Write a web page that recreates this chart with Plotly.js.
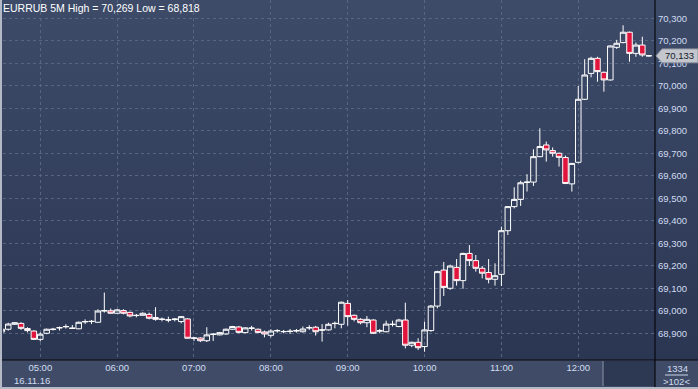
<!DOCTYPE html>
<html>
<head>
<meta charset="utf-8">
<script src="https://cdn.plot.ly/plotly-3.0.1.min.js"></script>
<style>
  html, body { margin: 0; padding: 0; background: #2b3652; }
  #chart { width: 698px; height: 389px; background: linear-gradient(to bottom, #3d4b69 0px, #2b3652 360px, #2b3652 389px); }
</style>
</head>
<body>
<div id="chart"></div>
<script>
// ---- data (5-minute bars, 16.11.16) ----
const dateLabel = "16.11.16";
const symbol = "EURRUB 5M";
const times = [
  "04:30","04:35","04:40","04:45","04:50","04:55",
  "05:00","05:05","05:10","05:15","05:20","05:25","05:30","05:35","05:40","05:45","05:50","05:55",
  "06:00","06:05","06:10","06:15","06:20","06:25","06:30","06:35","06:40","06:45","06:50","06:55",
  "07:00","07:05","07:10","07:15","07:20","07:25","07:30","07:35","07:40","07:45","07:50","07:55",
  "08:00","08:05","08:10","08:15","08:20","08:25","08:30","08:35","08:40","08:45","08:50","08:55",
  "09:00","09:05","09:10","09:15","09:20","09:25","09:30","09:35","09:40","09:45","09:50","09:55",
  "10:00","10:05","10:10","10:15","10:20","10:25","10:30","10:35","10:40","10:45","10:50","10:55",
  "11:00","11:05","11:10","11:15","11:20","11:25","11:30","11:35","11:40","11:45","11:50","11:55",
  "12:00","12:05","12:10","12:15","12:20","12:25","12:30","12:35","12:40","12:45","12:50","12:55"
];
const opens = [
  68906,68918,68940,68944,68921,68910,
  68873,68900,68917,68924,68929,68923,68920,68951,68952,68949,68999,69000,
  68989,69001,68993,68980,68980,68984,68970,68963,68960,68961,68952,68964,
  68878,68879,68867,68895,68893,68897,68918,68928,68903,68922,68918,68906,
  68891,68911,68907,68908,68910,68907,68924,68927,68914,68915,68943,68940,
  69033,68980,68962,68947,68959,68910,68907,68939,68930,68959,68847,68860,
  68841,68912,69021,69181,69100,69193,69134,69255,69223,69189,69170,69140,
  69162,69356,69463,69495,69570,69572,69685,69737,69712,69700,69681,69564,
  69660,69940,70055,70122,70060,70026,70171,70192,70238,70144,70181,70134
];
const highs = [
  68921,68947,68950,68949,68927,68913,
  68904,68921,68924,68930,68940,68937,68952,68962,68959,69007,69081,69010,
  69008,69007,68996,68986,68993,68992,69016,68970,68974,68968,68977,68966,
  68882,68882,68927,68900,68906,68921,68933,68933,68927,68933,68921,68912,
  68918,68918,68915,68919,68919,68930,68936,68933,68941,68947,68952,69041,
  69048,68983,68967,68977,68962,68919,68956,68956,68964,69036,68863,68878,
  68952,69026,69178,69217,69205,69230,69258,69292,69248,69199,69230,69211,
  69374,69465,69549,69578,69607,69718,69811,69752,69726,69703,69690,69657,
  69999,70118,70129,70129,70063,70180,70204,70269,70241,70192,70218,70137
];
const lows = [
  68903,68912,68937,68915,68904,68870,
  68864,68896,68912,68912,68921,68919,68918,68941,68941,68947,68992,68988,
  68988,68984,68971,68971,68978,68962,68956,68953,68949,68953,68944,68876,
  68866,68861,68861,68866,68891,68893,68916,68900,68900,68912,68900,68882,
  68882,68903,68900,68897,68903,68903,68915,68890,68863,68912,68922,68922,
  68934,68953,68940,68927,68897,68900,68904,68930,68927,68833,68838,68826,
  68818,68907,69011,69066,69093,69112,69098,69199,69174,69144,69122,69112,
  69110,69337,69455,69466,69530,69555,69683,69663,69685,69641,69563,69530,
  69655,69937,70038,70018,69974,70023,70164,70189,70107,70129,70129,70130
];
const closes = [
  68918,68941,68947,68922,68912,68873,
  68896,68918,68918,68925,68930,68922,68949,68952,68953,68999,69001,68989,
  69004,68989,68977,68979,68989,68967,68962,68962,68959,68963,68974,68878,
  68879,68867,68893,68896,68903,68918,68930,68904,68924,68923,68904,68897,
  68910,68912,68908,68909,68912,68919,68925,68907,68915,68940,68944,69038,
  68974,68962,68947,68962,68900,68911,68941,68940,68959,68847,68860,68836,
  68915,69021,69174,69104,69199,69134,69255,69223,69189,69167,69140,69156,
  69356,69463,69495,69569,69572,69685,69730,69715,69700,69682,69566,69655,
  69940,70048,70122,70063,70026,70177,70189,70238,70144,70181,70137,70133
];
const yTickVals = [68900,69000,69100,69200,69300,69400,69500,69600,69700,69800,69900,70000,70100,70200,70300];
const counterText = "1334";

// ---- helpers ----
const day = "2016-11-16 ";
const xs = times.map(t => day + t);
const fmt = v => v.toLocaleString('en-US');
const hi = Math.max(...highs), lo = Math.min(...lows);
const last = closes[closes.length - 1];

// pixel -> paper helpers (plot area: x 3..655, y 0..360)
const W = 698, H = 389, L = 3, R = 43, T = 0, B = 29;
const pw = W - L - R, ph = H - T - B;
const px = x => (x - L) / pw;
const py = y => (H - B - y) / ph;

const textFont = { family: 'Liberation Sans, Arial, sans-serif', size: 9.5, color: '#d0dcf2' };

const trace = {
  type: 'candlestick',
  x: xs, open: opens, high: highs, low: lows, close: closes,
  increasing: { line: { color: '#ffffff', width: 1 }, fillcolor: 'rgba(0,0,0,0)' },
  decreasing: { line: { color: '#ffffff', width: 1 }, fillcolor: '#e0143c' },
  whiskerwidth: 0,
  hoverinfo: 'skip',
  showlegend: false
};

const tagHalf = 31; // price units (~7px)
const layout = {
  width: W, height: H,
  margin: { l: L, r: R, t: T, b: B, pad: 0 },
  paper_bgcolor: 'rgba(0,0,0,0)',
  plot_bgcolor: 'rgba(0,0,0,0)',
  showlegend: false,
  boxgap: 0.14, boxgroupgap: 0,
  title: {
    text: `${symbol} High = ${fmt(hi)} Low = ${fmt(lo)}`,
    xref: 'container', yref: 'container',
    x: 3 / W, xanchor: 'left', y: 1 - 8 / H, yanchor: 'middle',
    font: { family: 'Liberation Sans, Arial, sans-serif', size: 10.5, color: '#ffffff' }
  },
  xaxis: {
    type: 'date',
    range: [day + '04:30:54', day + '12:59:54'],
    rangeslider: { visible: false },
    tickformat: '%H:%M', tick0: day + '00:00', dtick: 3600000,
    showgrid: true, gridcolor: '#58657f', gridwidth: 1, griddash: '3px,3px',
    zeroline: false, showline: false, ticks: '',
    tickfont: textFont, fixedrange: true
  },
  yaxis: {
    side: 'right',
    range: [68781.3, 70381.3],
    tickmode: 'array', tickvals: yTickVals, tickformat: ',',
    showgrid: true, gridcolor: '#58657f', gridwidth: 1, griddash: '3px,3px',
    zeroline: false, showline: false, ticks: '',
    tickfont: textFont, ticklabelstandoff: 2, fixedrange: true
  },
  shapes: [
    // bottom axis strip
    { type: 'rect', xref: 'paper', yref: 'paper', x0: px(0), x1: px(W), y0: py(H), y1: py(360),
      fillcolor: '#404c67', line: { width: 0 }, layer: 'below' },
    // dark scroll region
    { type: 'rect', xref: 'paper', yref: 'paper', x0: px(603), x1: px(655), y0: py(386), y1: py(361),
      fillcolor: '#2d3852', line: { width: 0 }, layer: 'below' },
    { type: 'line', xref: 'paper', yref: 'paper', x0: px(603), x1: px(603), y0: py(386), y1: py(361),
      line: { color: '#6f788c', width: 1.5 }, layer: 'below' },
    // separators
    { type: 'line', xref: 'paper', yref: 'paper', x0: px(655), x1: px(655), y0: py(H), y1: py(0),
      line: { color: '#08090d', width: 1.2 } },
    { type: 'line', xref: 'paper', yref: 'paper', x0: px(0), x1: px(W), y0: py(360), y1: py(360),
      line: { color: '#08090d', width: 1.2 } },
    // counter underline
    { type: 'line', xref: 'paper', yref: 'paper', x0: px(665), x1: px(688), y0: py(375), y1: py(375),
      line: { color: '#c8d4ea', width: 1 } },
    // outer light border (left, bottom)
    { type: 'rect', xref: 'paper', yref: 'paper', x0: px(0), x1: px(2), y0: py(H), y1: py(0),
      fillcolor: '#b3b9c5', line: { width: 0 } },
    { type: 'rect', xref: 'paper', yref: 'paper', x0: px(0), x1: px(W), y0: py(H), y1: py(387),
      fillcolor: '#b3b9c5', line: { width: 0 } },
    // current price tag
    { type: 'path', xref: 'paper', yref: 'y',
      path: `M ${px(656)} ${last} L ${px(662)} ${last + tagHalf} L ${px(698)} ${last + tagHalf} L ${px(698)} ${last - tagHalf} L ${px(662)} ${last - tagHalf} Z`,
      fillcolor: '#c3c7cd', line: { color: '#8d939e', width: 1 } }
  ],
  annotations: [
    { xref: 'paper', yref: 'paper', x: px(12), y: py(380), xanchor: 'left', yanchor: 'middle',
      text: dateLabel, showarrow: false, font: textFont },
    { xref: 'paper', yref: 'paper', x: px(677), y: py(368), xanchor: 'center', yanchor: 'middle',
      text: counterText, showarrow: false, font: textFont },
    { xref: 'paper', yref: 'paper', x: px(676), y: py(381.5), xanchor: 'center', yanchor: 'middle',
      text: '&gt;' + times.length + '&lt;', showarrow: false, font: textFont },
    { xref: 'paper', yref: 'y', x: px(679), y: last, xanchor: 'center', yanchor: 'middle',
      text: fmt(last), showarrow: false,
      font: { family: 'Liberation Sans, Arial, sans-serif', size: 9.5, color: '#141a28' } }
  ]
};

Plotly.newPlot('chart', [trace], layout, { displayModeBar: false, staticPlot: true });
</script>
</body>
</html>
